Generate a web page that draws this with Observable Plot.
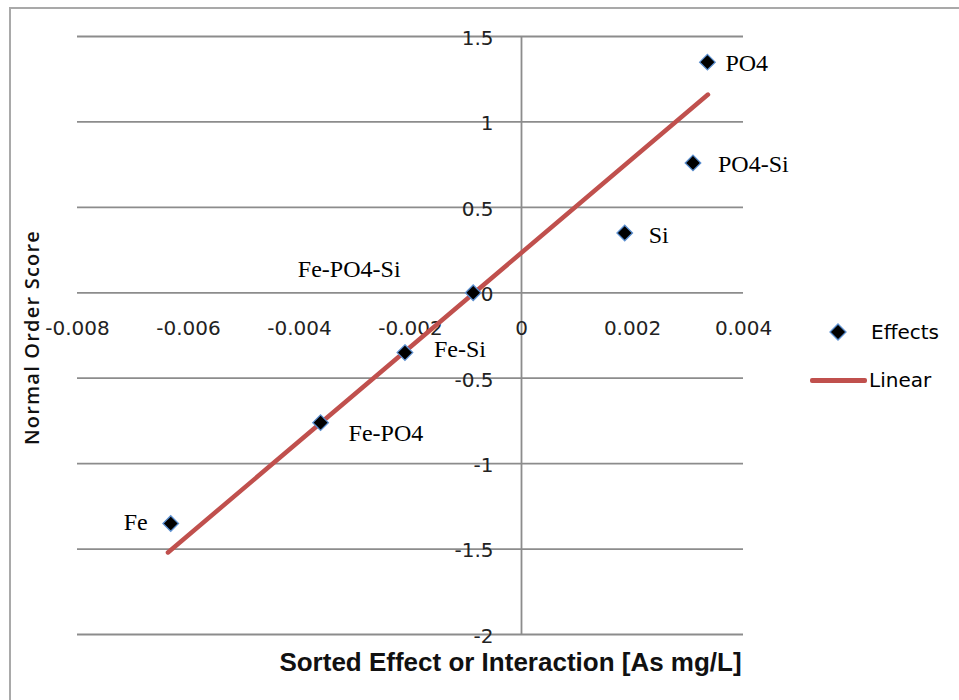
<!DOCTYPE html>
<html>
<head>
<meta charset="utf-8">
<script src="https://cdn.jsdelivr.net/npm/d3@7"></script>
<script src="https://cdn.jsdelivr.net/npm/@observablehq/plot@0.6"></script>
<style>
  html, body { margin: 0; padding: 0; background: #fff; overflow: hidden; }
  #wrap { position: relative; width: 959px; height: 700px; }
  #border { position: absolute; left: 9px; top: 7px; width: 2000px; height: 2000px;
            border-left: 2.5px solid #a9a9a9; border-top: 2.5px solid #a9a9a9; box-sizing: border-box; }
  #chart { position: absolute; left: 0; top: 0; }
  .leg { position: absolute; font-family: "DejaVu Sans", sans-serif; font-size: 20px; color: #000; line-height: 1; }
</style>
</head>
<body>
<div id="wrap">
  <div id="border"></div>
  <div id="chart"></div>
  <div id="legend"></div>
</div>
<script>
// ---- data ----
const effectNames  = ["Fe", "Fe-PO4", "Fe-Si", "Fe-PO4-Si", "Si", "PO4-Si", "PO4"];
const effectValues = [-0.00632, -0.00362, -0.00210, -0.00087, 0.00186, 0.00309, 0.00335];
const normalScores = [-1.35, -0.76, -0.35, 0, 0.35, 0.76, 1.35];
const trendX = [-0.00637, 0.00336];
const trendY = [-1.52, 1.16];
const xTicks = [-0.008, -0.006, -0.004, -0.002, 0, 0.002, 0.004];
const xTickLabels = ["-0.008", "-0.006", "-0.004", "-0.002", "0", "0.002", "0.004"];
const yTicks = [-2, -1.5, -1, -0.5, 0, 0.5, 1, 1.5];
const yTickLabels = ["-2", "-1.5", "-1", "-0.5", "0", "0.5", "1", "1.5"];
const seriesNames = ["Effects", "Linear"];
const xTitle = "Sorted Effect or Interaction [As mg/L]";
const yTitle = "Normal Order Score";

// ---- styling (label placement relative to each point) ----
const labelPlacement = {
  "Fe":        {anchor: "end",    dx: -23, dy: -1},
  "Fe-PO4":    {anchor: "start",  dx: 28,  dy: 11},
  "Fe-Si":     {anchor: "start",  dx: 29,  dy: -3},
  "Fe-PO4-Si": {anchor: "middle", dx: -124, dy: -23},
  "Si":        {anchor: "start",  dx: 24,  dy: 2},
  "PO4-Si":    {anchor: "start",  dx: 25,  dy: 1},
  "PO4":       {anchor: "start",  dx: 18,  dy: 1}
};
const gridColor = "#8c8c8c";
const trendColor = "#c0504d";

const points = effectNames.map((n, i) => ({name: n, x: effectValues[i], y: normalScores[i]}));
const trend = trendX.map((x, i) => ({x, y: trendY[i]}));
const xt = xTicks.map((v, i) => ({v, label: xTickLabels[i]}));
const yt = yTicks.map((v, i) => ({v, label: yTickLabels[i]}));

const labelMarks = points.map(p => {
  const s = labelPlacement[p.name];
  return Plot.text([p], {x: "x", y: "y", text: "name", textAnchor: s.anchor, dx: s.dx, dy: s.dy,
    fontFamily: "Liberation Serif", fontSize: 24, fill: "#000"});
});

const chart = Plot.plot({
  width: 959,
  height: 700,
  marginLeft: 77,
  marginRight: 216,
  marginTop: 36,
  marginBottom: 66,
  x: {domain: [-0.008, 0.004], axis: null},
  y: {domain: [-2, 1.5], axis: null},
  style: {fontFamily: "DejaVu Sans", fontSize: "20px", background: "transparent", color: "#000"},
  marks: [
    Plot.ruleY(yTicks, {stroke: gridColor, strokeWidth: 1.8}),
    Plot.ruleX([0], {y1: -2, y2: 1.5, stroke: gridColor, strokeWidth: 1.8}),
    Plot.text(xt, {x: "v", y: () => 0, text: "label", dy: 36, fill: "#222"}),
    Plot.text(yt, {x: () => 0, y: "v", text: "label", textAnchor: "end", dx: -28, dy: 2, fill: "#222"}),
    Plot.line(trend, {x: "x", y: "y", stroke: trendColor, strokeWidth: 4.5}),
    Plot.dot(points, {x: "x", y: "y", symbol: "diamond2", r: 7, fill: "#000", stroke: "#5b8fd0", strokeWidth: 1.3}),
    ...labelMarks,
    Plot.text([yTitle], {frameAnchor: "left", textAnchor: "middle", rotate: -90, dx: -45, dy: 2,
      fontFamily: "Open Sans", fontWeight: 600, fontSize: 20, fill: "#111"}),
    Plot.text([xTitle], {frameAnchor: "bottom", textAnchor: "middle", dx: 100, dy: 36,
      fontFamily: "Liberation Sans", fontWeight: "bold", fontSize: 26, fill: "#111"})
  ]
});
document.getElementById("chart").appendChild(chart);
d3.select(chart).selectAll("text").filter(function() { return this.textContent === yTitle; })
  .style("letter-spacing", "1.2px");

// ---- legend ----
const legend = document.getElementById("legend");
legend.innerHTML = `
  <svg class="leg" style="left:828px; top:322px;" width="20" height="20">
    <polygon points="10,2 18,10 10,18 2,10" fill="#000" stroke="#5b8fd0" stroke-width="1.3"/>
  </svg>
  <div class="leg" style="left:871px; top:322px;">${seriesNames[0]}</div>
  <div class="leg" style="left:810px; top:378px; width:57px; height:5px; background:${trendColor}; border-radius:2px;"></div>
  <div class="leg" style="left:869px; top:370px;">${seriesNames[1]}</div>
`;
</script>
</body>
</html>
